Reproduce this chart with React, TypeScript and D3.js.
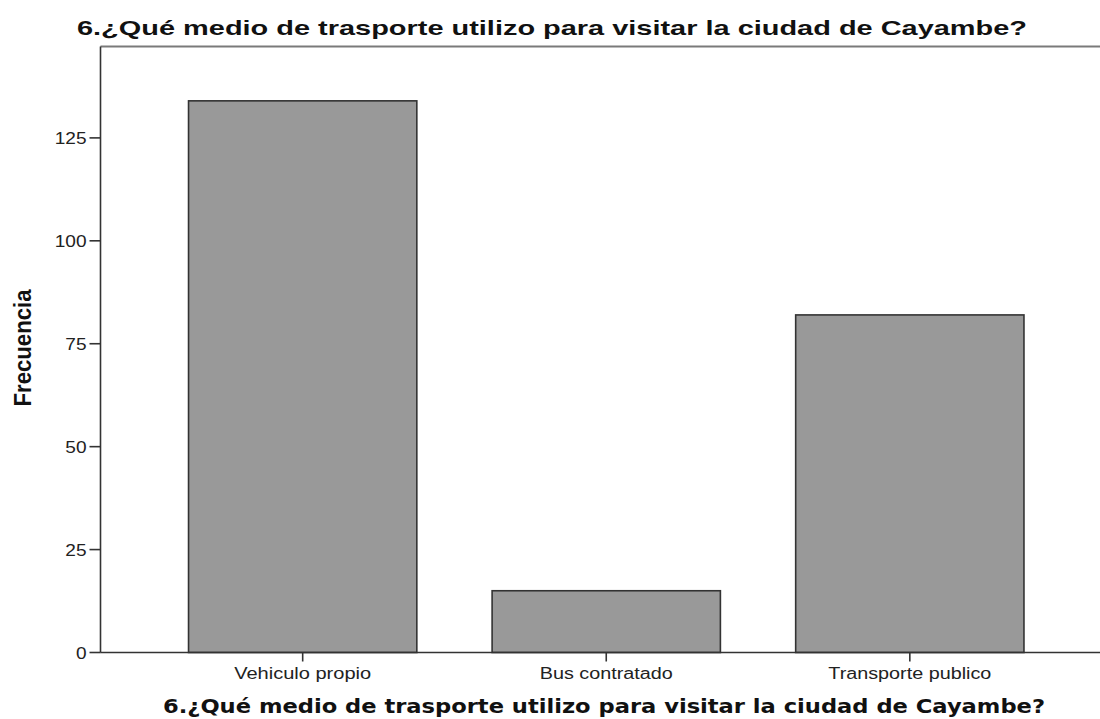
import React from "react";
import * as d3 from "d3";

const categories = ["Vehiculo propio", "Bus contratado", "Transporte publico"];
const frequencies = [134, 15, 82];
const yTicks = [0, 25, 50, 75, 100, 125];
const chartTitle = "6.¿Qué medio de trasporte utilizo para visitar la ciudad de Cayambe?";
const xAxisTitle = "6.¿Qué medio de trasporte utilizo para visitar la ciudad de Cayambe?";
const yAxisTitle = "Frecuencia";

const W = 1100;
const H = 719;
const plotLeft = 100.5;
const plotTop = 46.5;
const plotBottom = 652.5;
const plotRightVirtual = 1112;

export default function App() {
  const x = d3
    .scaleBand<string>()
    .domain(categories)
    .range([plotLeft, plotRightVirtual])
    .paddingInner(0.248)
    .paddingOuter(0.29);
  const y = d3.scaleLinear().domain([0, 147.2]).range([plotBottom, plotTop]);

  const labelWidths: Record<string, number> = {
    "Vehiculo propio": 137,
    "Bus contratado": 133,
    "Transporte publico": 163,
  };
  const font = "'Liberation Sans', Arial, sans-serif";

  return (
    <svg
      width={W}
      height={H}
      style={{ position: "absolute", left: 0, top: 0, background: "#fff" }}
    >
      <rect x={0} y={0} width={W} height={H} fill="#fff" />
      {/* title */}
      <text
        x={552}
        y={35}
        textAnchor="middle"
        fontFamily={font}
        fontWeight="bold"
        fontSize={21}
        fill="#111"
        textLength={950}
        lengthAdjust="spacingAndGlyphs"
      >
        {chartTitle}
      </text>
      {/* top frame line */}
      <line x1={plotLeft} x2={W} y1={plotTop} y2={plotTop} stroke="#7a7a7a" strokeWidth={2} />
      {/* bars */}
      {categories.map((c, i) => (
        <rect
          key={c}
          x={x(c)}
          y={y(frequencies[i])}
          width={x.bandwidth()}
          height={y(0) - y(frequencies[i])}
          fill="#999999"
          stroke="#333"
          strokeWidth={1.6}
        />
      ))}
      {/* y axis */}
      <line x1={plotLeft} x2={plotLeft} y1={plotTop} y2={plotBottom} stroke="#333" strokeWidth={1.6} />
      {yTicks.map((t) => (
        <g key={t}>
          <line x1={plotLeft - 11} x2={plotLeft} y1={y(t)} y2={y(t)} stroke="#333" strokeWidth={1.6} />
          <text
            x={plotLeft - 14}
            y={y(t) + 6}
            textAnchor="end"
            fontFamily={font}
            fontSize={16.5}
            fill="#222"
            textLength={String(t).length * 10.6}
            lengthAdjust="spacingAndGlyphs"
          >
            {t}
          </text>
        </g>
      ))}
      {/* x axis */}
      <line x1={plotLeft} x2={W} y1={plotBottom} y2={plotBottom} stroke="#333" strokeWidth={1.6} />
      {categories.map((c) => {
        const cx = (x(c) as number) + x.bandwidth() / 2;
        return (
          <g key={c}>
            <line x1={cx} x2={cx} y1={plotBottom} y2={plotBottom + 9} stroke="#333" strokeWidth={1.6} />
            <text
              x={cx}
              y={679}
              textAnchor="middle"
              fontFamily={font}
              fontSize={16}
              fill="#222"
              textLength={labelWidths[c]}
              lengthAdjust="spacingAndGlyphs"
            >
              {c}
            </text>
          </g>
        );
      })}
      {/* x axis title */}
      <text
        x={604}
        y={713}
        textAnchor="middle"
        fontFamily="'DejaVu Sans', Verdana, sans-serif"
        fontWeight="bold"
        fontSize={19}
        fill="#111"
        textLength={882}
        lengthAdjust="spacingAndGlyphs"
      >
        {xAxisTitle}
      </text>
      {/* y axis title */}
      <g transform="translate(31,348) scale(1.16,1) rotate(-90)">
        <text
          x={0}
          y={0}
          textAnchor="middle"
          fontFamily={font}
          fontWeight="bold"
          fontSize={21}
          fill="#111"
          textLength={117}
          lengthAdjust="spacingAndGlyphs"
        >
          {yAxisTitle}
        </text>
      </g>
    </svg>
  );
}
